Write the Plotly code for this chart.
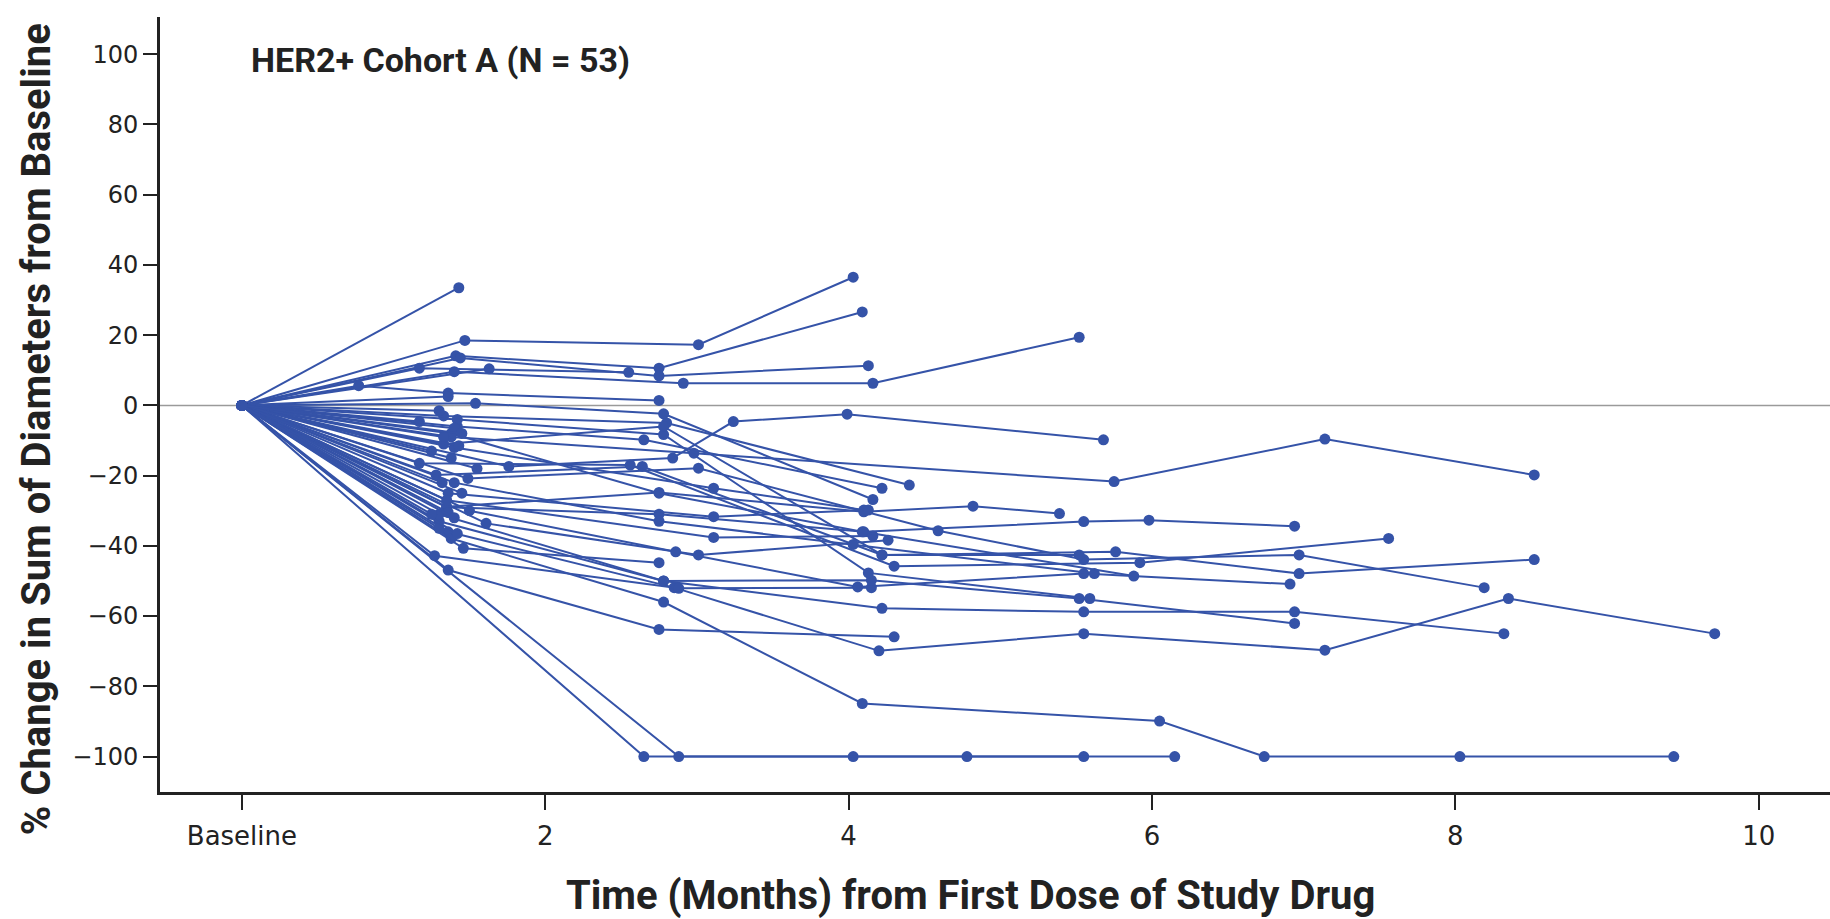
import plotly.graph_objects as go

# Visit times (months from first dose) for each patient, baseline = 0
visit_months = [
    [0, 1.43],
    [0, 1.47, 3.01, 4.03],
    [0, 1.41, 2.75, 4.09],
    [0, 1.44, 2.75, 4.13],
    [0, 1.63],
    [0, 1.40, 2.91, 4.16, 5.52],
    [0, 1.17, 2.55],
    [0, 0.77, 1.36, 2.75],
    [0, 1.54, 2.78, 4.16],
    [0, 1.38, 2.98, 5.75, 7.14, 8.52],
    [0, 1.76, 2.84, 3.24, 3.99, 5.68],
    [0, 1.33, 2.80, 4.40],
    [0, 1.35, 2.75, 4.10, 5.55, 5.98, 6.94],
    [0, 1.36, 2.85, 4.20, 5.55, 7.14, 8.35, 9.71],
    [0, 1.30, 2.78, 4.22, 5.55, 6.94, 8.32],
    [0, 1.36, 2.75, 4.30],
    [0, 1.38, 2.78, 4.09, 6.05, 6.74, 8.03, 9.44],
    [0, 2.65, 4.03, 5.55],
    [0, 2.88, 4.78, 6.15],
    [0, 1.27, 2.88, 4.15],
    [0, 1.46, 2.75],
    [0, 1.61, 3.01, 4.26],
    [0, 1.28, 2.64, 4.22, 5.76, 6.97, 8.52],
    [0, 1.49, 3.01, 4.59, 5.55, 6.97, 8.19],
    [0, 1.17, 2.56, 4.30, 5.92, 7.56],
    [0, 1.35, 2.75, 4.10, 4.82, 5.39],
    [0, 1.40, 3.11, 4.10],
    [0, 1.42, 2.65, 4.22],
    [0, 1.36, 3.11, 4.13],
    [0, 1.50, 2.86, 4.06, 5.55, 6.91],
    [0, 1.30, 2.78, 4.15, 5.52, 6.94],
    [0, 1.40, 2.75, 4.03, 5.62],
    [0, 1.35, 3.11, 4.16],
    [0, 1.38, 2.75, 4.09, 5.88],
    [0, 1.42, 2.78, 4.13, 5.59],
    [0, 1.33, 2.78, 4.22, 5.52],
    [0, 1.36],
    [0, 1.30],
    [0, 1.17],
    [0, 1.40],
    [0, 1.33],
    [0, 1.43],
    [0, 1.25],
    [0, 1.38],
    [0, 1.55],
    [0, 1.32],
    [0, 1.45],
    [0, 1.36],
    [0, 1.40],
    [0, 1.30],
    [0, 1.42],
    [0, 1.25],
    [0, 1.45],
]

# Percent change in sum of target lesion diameters at each visit
pct_change = [
    [0, 33.5],
    [0, 18.5, 17.3, 36.5],
    [0, 14.1, 10.6, 26.6],
    [0, 13.5, 8.4, 11.3],
    [0, 10.4],
    [0, 9.6, 6.3, 6.3, 19.4],
    [0, 10.6, 9.4],
    [0, 5.6, 3.5, 1.4],
    [0, 0.6, -2.4, -26.8],
    [0, -9, -13.6, -21.7, -9.6, -19.8],
    [0, -17.4, -15, -4.6, -2.5, -9.8],
    [0, -3, -5, -22.7],
    [0, -29, -31, -36, -33.1, -32.7, -34.4],
    [0, -36, -51.9, -69.9, -65, -69.7, -55, -65],
    [0, -33, -50, -57.8, -58.8, -58.8, -65],
    [0, -46.9, -63.8, -65.9],
    [0, -37.9, -56, -84.9, -89.9, -100, -100, -100],
    [0, -100, -100, -100],
    [0, -100, -100, -100],
    [0, -42.8, -52.1, -51.9],
    [0, -40.7, -44.8],
    [0, -33.6, -42.6, -38.4],
    [0, -19.8, -17.4, -42.6, -41.7, -47.9, -43.9],
    [0, -20.8, -17.9, -35.7, -43.9, -42.6, -51.9],
    [0, -16.5, -17, -45.8, -44.8, -37.9],
    [0, -28.9, -24.8, -30.3, -28.7, -30.8],
    [0, -12, -23.6, -29.8],
    [0, -6, -9.8, -23.6],
    [0, -25, -31.7, -29.8],
    [0, -30, -41.7, -51.7, -47.9, -50.9],
    [0, -31, -50, -49.8, -55, -62.1],
    [0, -22, -33, -39.6, -47.9],
    [0, -27, -37.6, -37.2],
    [0, -8, -25, -36, -48.6],
    [0, -4, -8.3, -47.7, -55],
    [0, -11, -6.0, -42.6, -42.6],
    [0, 2.5],
    [0, -1.5],
    [0, -4.6],
    [0, -6.5],
    [0, -9],
    [0, -11.5],
    [0, -13],
    [0, -15],
    [0, -18],
    [0, -22],
    [0, -25],
    [0, -30.5],
    [0, -32],
    [0, -35],
    [0, -36.5],
    [0, -31],
    [0, -8],
]

x_tick_vals = [0, 2, 4, 6, 8, 10]
x_tick_text = ["Baseline", "2", "4", "6", "8", "10"]
y_tick_vals = [100, 80, 60, 40, 20, 0, -20, -40, -60, -80, -100]

BLUE = "#3553a8"
INK = "#222222"
TITLE_FONT = "Liberation Sans Narrow, Roboto, Arial Narrow, sans-serif"
TICK_FONT = "DejaVu Sans, Verdana, sans-serif"

fig = go.Figure()
for months, pct in zip(visit_months, pct_change):
    fig.add_trace(go.Scatter(
        x=months, y=pct,
        mode="lines+markers",
        line=dict(color=BLUE, width=2),
        marker=dict(color=BLUE, size=11),
        showlegend=False,
        hoverinfo="x+y",
    ))

# Reference line at 0% change
fig.add_shape(type="line", xref="paper", yref="y", x0=0, x1=1, y0=0, y1=0,
              line=dict(color="#9a9a9a", width=1.5), layer="below")

fig.update_layout(
    width=1830, height=919,
    margin=dict(l=160, r=0, t=17, b=127),
    plot_bgcolor="white", paper_bgcolor="white",
    xaxis=dict(
        range=[-0.54, 10.47],
        tickmode="array", tickvals=x_tick_vals, ticktext=x_tick_text,
        ticks="outside", ticklen=15, tickwidth=1.5, tickcolor=INK,
        showline=True, linecolor=INK, linewidth=3,
        showgrid=False, zeroline=False,
        ticklabelstandoff=4,
        tickfont=dict(family=TICK_FONT, size=26, color=INK),
    ),
    yaxis=dict(
        range=[-110.1, 110.6],
        tickmode="array", tickvals=y_tick_vals,
        ticks="outside", ticklen=14, tickwidth=1.5, tickcolor=INK,
        showline=True, linecolor=INK, linewidth=3,
        showgrid=False, zeroline=False,
        tickfont=dict(family=TICK_FONT, size=24, color=INK),
    ),
    annotations=[
        dict(text="<b>% Change in Sum of Diameters from Baseline</b>",
             xref="paper", yref="paper", x=-0.0743, y=0.468,
             textangle=-90, showarrow=False,
             xanchor="center", yanchor="middle",
             font=dict(family=TITLE_FONT, size=40, color=INK)),
        dict(text="<b>Time (Months) from First Dose of Study Drug</b>",
             xref="paper", yref="paper", x=0.4856, y=-0.134,
             showarrow=False, xanchor="center", yanchor="middle",
             font=dict(family=TITLE_FONT, size=40, color=INK)),
        dict(text="<b>HER2+ Cohort A (N = 53)</b>",
             xref="paper", yref="paper", x=0.0533, y=0.9445,
             showarrow=False, xanchor="left", yanchor="middle",
             font=dict(family=TITLE_FONT, size=34, color=INK)),
    ],
)

fig.write_html("out.html")
